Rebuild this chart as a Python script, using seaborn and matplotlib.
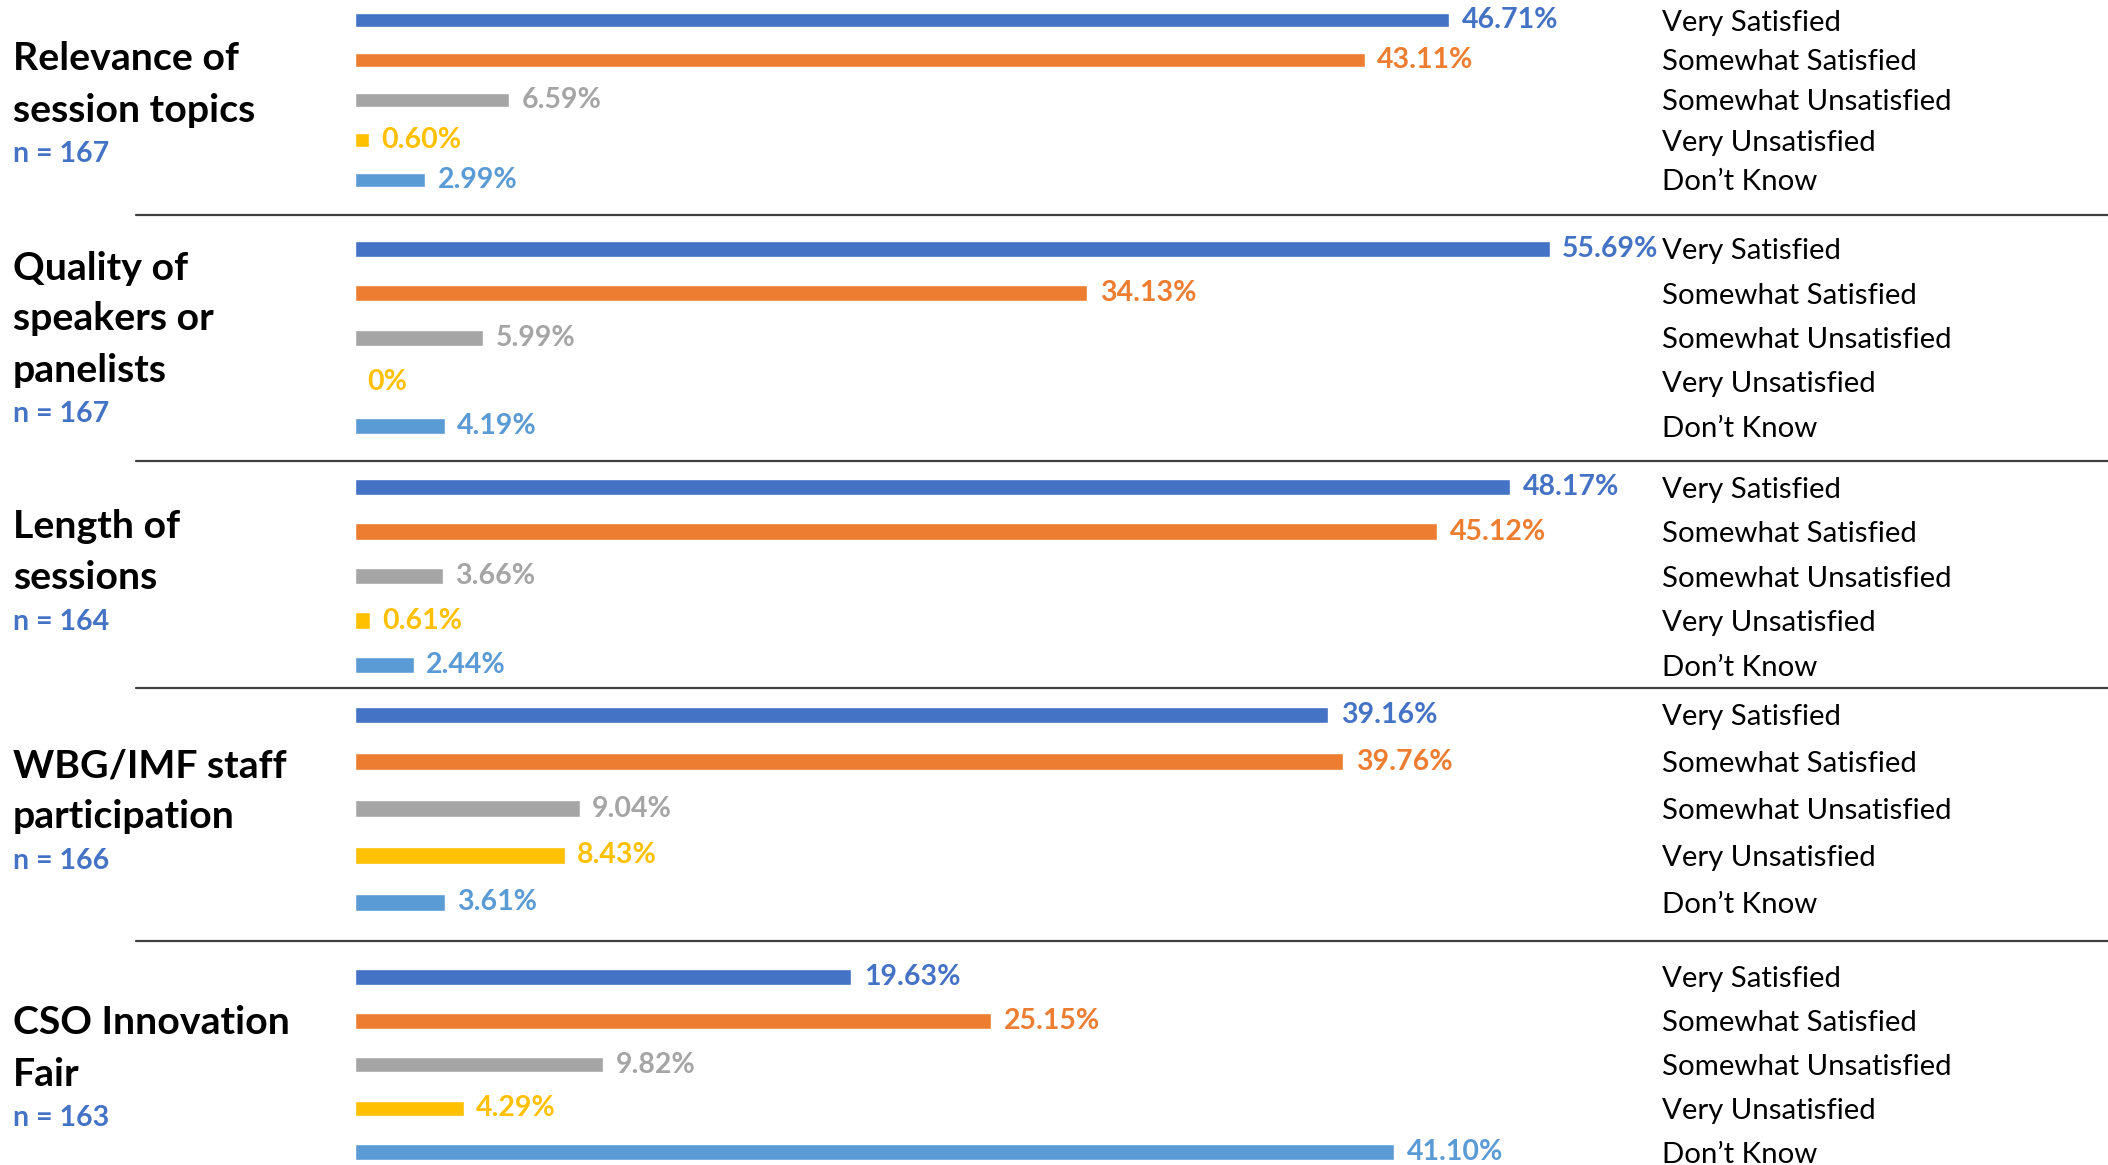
import matplotlib.pyplot as plt
import pandas as pd
import seaborn as sns
from matplotlib.lines import Line2D

sns.set_theme(style="white")
plt.rcParams["font.family"] = ["Lato", "DejaVu Sans"]

responses = ["Very Satisfied", "Somewhat Satisfied", "Somewhat Unsatisfied",
             "Very Unsatisfied", "Don\u2019t Know"]
colors = ["#4472C4", "#ED7D31", "#A5A5A5", "#FFC000", "#5B9BD5"]

topics = ["Relevance of\nsession topics", "Quality of\nspeakers or\npanelists",
          "Length of\nsessions", "WBG/IMF staff\nparticipation", "CSO Innovation\nFair"]
n_resp = [167, 167, 164, 166, 163]

relevance = [46.71, 43.11, 6.59, 0.60, 2.99]
quality = [55.69, 34.13, 5.99, 0.0, 4.19]
length = [48.17, 45.12, 3.66, 0.61, 2.44]
staff = [39.16, 39.76, 9.04, 8.43, 3.61]
fair = [19.63, 25.15, 9.82, 4.29, 41.10]
panels = [relevance, quality, length, staff, fair]

# layout, in pixels of the 2108x1165 canvas
W, H = 2108, 1165
bar_left, bar_right = 355, 1655
first_bar = [20, 249, 487, 715, 977]
bar_step = [40, 44.3, 44.5, 46.8, 43.8]
x_max = [55.5, 60.6, 54.2, 52.3, 51.4]
title_top = [59, 268, 527, 766, 1023]
rules = [215, 461, 688, 941]


def fmt(v):
    return "0%" if v == 0 else f"{v:.2f}%"


fig = plt.figure(figsize=(W / 100, H / 100), dpi=100)

for i, vals in enumerate(panels):
    top = first_bar[i] - bar_step[i] / 2
    h = bar_step[i] * 5
    ax = fig.add_axes([bar_left / W, 1 - (top + h) / H, (bar_right - bar_left) / W, h / H])
    df = pd.DataFrame({"response": responses, "pct": vals})
    sns.barplot(data=df, x="pct", y="response", hue="response", palette=colors,
                saturation=1, legend=False, width=0.36, ax=ax)
    ax.set_xlim(0, x_max[i])
    ax.set_ylim(4.5, -0.5)
    ax.yaxis.tick_right()
    ax.tick_params(axis="y", length=0, pad=5, labelsize=21.2, labelcolor="black")
    ax.set_xticks([])
    ax.set_xlabel("")
    ax.set_ylabel("")
    for spine in ax.spines.values():
        spine.set_visible(False)
    ax.patch.set_alpha(0)
    for container, color, v in zip(ax.containers, colors, vals):
        ax.bar_label(container, labels=[fmt(v)], padding=9, color=color,
                     fontsize=20.5, fontweight="bold")

    lines = topics[i].split("\n")
    for j, line in enumerate(lines):
        fig.text(13 / W, 1 - (title_top[i] + 51 * j) / H, line, fontsize=28.3,
                 fontweight="bold", color="black", va="center")
    fig.text(13 / W, 1 - (title_top[i] + 51 * (len(lines) - 1) + 44) / H,
             f"n = {n_resp[i]}", fontsize=20.5, fontweight="bold", color="#4472C4", va="center")

for y in rules:
    fig.add_artist(Line2D([136 / W, 1], [1 - y / H] * 2, transform=fig.transFigure,
                          color="#404040", lw=1.6))

fig.savefig("out.png", dpi=100)
plt.close(fig)
